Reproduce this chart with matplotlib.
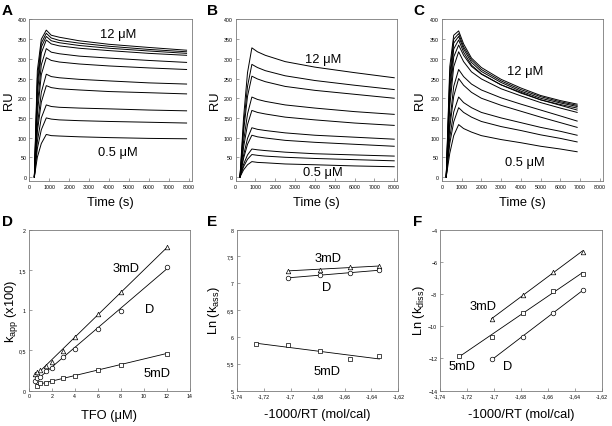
import numpy as np
import matplotlib.pyplot as plt
from matplotlib.ticker import MultipleLocator, FuncFormatter

plt.rcParams['font.family'] = ['Liberation Sans', 'DejaVu Sans']

# --- sensorgrams (RU vs time), one row per TFO concentration, top curve = 12 uM
a_time = [250, 400, 600, 850, 1100, 1500, 2500, 4000, 6000, 7900]
a_ru = [
    [0, 270, 350, 373, 360, 355, 346, 337, 329, 322],
    [0, 250, 340, 365, 353, 347, 340, 332, 324, 318],
    [0, 230, 330, 357, 346, 341, 334, 327, 320, 314],
    [0, 210, 315, 348, 338, 333, 327, 321, 314, 309],
    [0, 180, 285, 326, 317, 313, 307, 302, 296, 291],
    [0, 160, 260, 303, 296, 292, 287, 282, 277, 273],
    [0, 130, 215, 261, 255, 252, 248, 244, 239, 236],
    [0, 115, 190, 232, 227, 224, 221, 217, 214, 211],
    [0, 90, 150, 183, 179, 177, 175, 173, 170, 168],
    [0, 72, 120, 150, 147, 145, 143, 141, 139, 137],
    [0, 50, 85, 108, 105, 104, 102, 100, 98, 97],
]

b_time = [220, 400, 600, 820, 1100, 1500, 2500, 4000, 6000, 8000]
b_ru = [
    [0, 150, 265, 328, 318, 309, 293, 279, 265, 252],
    [0, 130, 230, 286, 278, 270, 257, 245, 233, 222],
    [0, 115, 205, 256, 249, 242, 230, 220, 210, 200],
    [0, 90, 160, 203, 197, 192, 183, 175, 166, 159],
    [0, 75, 133, 169, 164, 160, 152, 145, 137, 131],
    [0, 55, 98, 125, 121, 118, 112, 106, 101, 96],
    [0, 47, 83, 106, 102, 99, 93, 88, 83, 78],
    [0, 32, 56, 71, 69, 67, 63, 59, 56, 53],
    [0, 26, 45, 57, 55, 53, 50, 47, 44, 41],
    [0, 18, 31, 39, 37, 36, 33, 31, 28, 26],
]

c_time = [220, 400, 600, 850, 1100, 1500, 2000, 3000, 4000, 5000, 6000, 6850]
c_ru = [
    [0, 280, 360, 371, 338, 302, 278, 248, 226, 207, 194, 185],
    [0, 260, 350, 364, 331, 297, 273, 244, 222, 204, 191, 182],
    [0, 240, 340, 357, 325, 291, 268, 240, 218, 200, 188, 179],
    [0, 220, 325, 348, 317, 284, 262, 234, 213, 196, 184, 175],
    [0, 200, 305, 335, 309, 281, 261, 234, 215, 196, 182, 170],
    [0, 180, 280, 318, 293, 267, 249, 224, 206, 189, 175, 164],
    [0, 140, 230, 273, 255, 236, 221, 201, 185, 170, 155, 142],
    [0, 125, 205, 250, 233, 215, 200, 182, 167, 152, 138, 126],
    [0, 100, 165, 203, 189, 176, 164, 150, 138, 126, 116, 106],
    [0, 85, 140, 176, 164, 152, 141, 128, 118, 107, 98, 89],
    [0, 60, 105, 133, 123, 114, 105, 95, 87, 78, 71, 64],
]

# --- panel D: k_app (x100) vs TFO (uM)
tfo_3md = [0.5, 0.75, 1, 1.5, 2, 3, 4, 6, 8, 12]
kapp_3md = [0.20, 0.23, 0.26, 0.30, 0.35, 0.49, 0.66, 0.95, 1.22, 1.78]
tfo_d = [0.5, 0.75, 1, 1.5, 2, 3, 4, 6, 8, 12]
kapp_d = [0.12, 0.15, 0.17, 0.24, 0.28, 0.42, 0.52, 0.77, 0.99, 1.54]
tfo_5md = [0.7, 1, 1.5, 2, 3, 4, 6, 8, 12]
kapp_5md = [0.06, 0.09, 0.10, 0.12, 0.16, 0.18, 0.26, 0.32, 0.46]

# --- panels E/F: Arrhenius plots
inv_rt = [-1.7257, -1.7017, -1.6786, -1.6562, -1.6341]
lnkass_3md = [7.236, 7.25, 7.30, 7.32]
lnkass_d = [7.10, 7.15, 7.20, 7.24]
lnkass_5md = [5.876, 5.84, 5.73, 5.58, 5.64]
lnkdiss_3md = [-9.57, -8.08, -6.62, -5.38]
lnkdiss_d = [-12.04, -10.70, -9.20, -7.75]
lnkdiss_5md = [-11.84, -10.66, -9.18, -7.81, -6.74]


def comma(v, pos):
    s = ('%.2f' % v).rstrip('0').rstrip('.')
    if s == '-0':
        s = '0'
    return s.replace('.', ',')


def style(ax, ylab_x, xlab_y):
    for sp in ax.spines.values():
        sp.set_color('#7a7a7a')
        sp.set_linewidth(0.6)
    ax.tick_params(direction='in', length=2, width=0.5, color='#7a7a7a',
                   labelsize=3.8, pad=2)
    ax.yaxis.label.set_va('center')
    ax.xaxis.label.set_va('center')
    ax.yaxis.set_label_coords(ylab_x, 0.5)
    ax.xaxis.set_label_coords(0.5, xlab_y)


def sensorgram(ax, t, rows, top_xy, bot_xy, ylab_x):
    for r in rows:
        ax.plot(t, r, color='black', lw=0.7)
    ax.set_xlim(0, 8150)
    ax.set_ylim(-10, 400)
    ax.xaxis.set_major_locator(MultipleLocator(1000))
    ax.yaxis.set_major_locator(MultipleLocator(50))
    ax.set_xlabel('Time (s)', fontsize=9.3)
    ax.set_ylabel('RU', fontsize=9.3)
    ax.text(*top_xy, '12 μM', fontsize=9.3, ha='center', va='center')
    ax.text(*bot_xy, '0.5 μM', fontsize=9.3, ha='center', va='center')
    style(ax, ylab_x, -0.13)


def scatter_fit(ax, x, y, marker):
    x = np.asarray(x)
    p = np.polyfit(x, y, 1)
    xs = np.array([x.min(), x.max()])
    ax.plot(xs, np.polyval(p, xs), color='black', lw=0.6)
    ax.plot(x, y, marker, ms=3.3, mfc='white', mec='black', mew=0.5,
            ls='none')


fig = plt.figure(figsize=(6.12, 4.27), dpi=100)

axA = fig.add_axes([0.048, 0.574, 0.265, 0.378])
sensorgram(axA, a_time, a_ru, (4450, 364), (4450, 63), -0.128)
axB = fig.add_axes([0.385, 0.574, 0.264, 0.378])
sensorgram(axB, b_time, b_ru, (4420, 300), (4420, 12), -0.128)
axC = fig.add_axes([0.722, 0.574, 0.263, 0.378])
sensorgram(axC, c_time, c_ru, (4220, 268), (4220, 38), -0.137)

axD = fig.add_axes([0.047, 0.083, 0.263, 0.377])
scatter_fit(axD, tfo_3md, kapp_3md, '^')
scatter_fit(axD, tfo_d, kapp_d, 'o')
scatter_fit(axD, tfo_5md, kapp_5md, 's')
axD.set_xlim(0, 14)
axD.set_ylim(0, 2)
axD.xaxis.set_major_locator(MultipleLocator(2))
axD.yaxis.set_major_locator(MultipleLocator(0.5))
axD.yaxis.set_major_formatter(FuncFormatter(comma))
axD.set_xlabel('TFO (μM)', fontsize=9.3)
axD.set_ylabel(r'k$_\mathregular{app}$ (x100)', fontsize=9.3)
axD.text(8.5, 1.52, '3mD', fontsize=9.3, ha='center', va='center')
axD.text(10.5, 1.01, 'D', fontsize=9.3, ha='center', va='center')
axD.text(11.2, 0.22, '5mD', fontsize=9.3, ha='center', va='center')
style(axD, -0.105, -0.15)

axE = fig.add_axes([0.387, 0.083, 0.264, 0.377])
scatter_fit(axE, inv_rt[1:], lnkass_3md, '^')
scatter_fit(axE, inv_rt[1:], lnkass_d, 'o')
scatter_fit(axE, inv_rt, lnkass_5md, 's')
axE.set_xlim(-1.74, -1.62)
axE.set_ylim(5, 8)
axE.xaxis.set_major_locator(MultipleLocator(0.02))
axE.yaxis.set_major_locator(MultipleLocator(0.5))
axE.xaxis.set_major_formatter(FuncFormatter(comma))
axE.yaxis.set_major_formatter(FuncFormatter(comma))
axE.set_xlabel('-1000/RT (mol/cal)', fontsize=9.3)
axE.set_ylabel(r'Ln (k$_\mathregular{ass}$)', fontsize=9.3)
axE.text(-1.672, 7.47, '3mD', fontsize=9.3, ha='center', va='center')
axE.text(-1.673, 6.93, 'D', fontsize=9.3, ha='center', va='center')
axE.text(-1.673, 5.36, '5mD', fontsize=9.3, ha='center', va='center')
style(axE, -0.14, -0.145)

axF = fig.add_axes([0.719, 0.083, 0.264, 0.377])
scatter_fit(axF, inv_rt[1:], lnkdiss_3md, '^')
scatter_fit(axF, inv_rt[1:], lnkdiss_d, 'o')
scatter_fit(axF, inv_rt, lnkdiss_5md, 's')
axF.set_xlim(-1.74, -1.62)
axF.set_ylim(-14, -4)
axF.xaxis.set_major_locator(MultipleLocator(0.02))
axF.yaxis.set_major_locator(MultipleLocator(2))
axF.xaxis.set_major_formatter(FuncFormatter(comma))
axF.set_xlabel('-1000/RT (mol/cal)', fontsize=9.3)
axF.set_ylabel(r'Ln (k$_\mathregular{diss}$)', fontsize=9.3)
axF.text(-1.708, -8.74, '3mD', fontsize=9.3, ha='center', va='center')
axF.text(-1.724, -12.5, '5mD', fontsize=9.3, ha='center', va='center')
axF.text(-1.69, -12.5, 'D', fontsize=9.3, ha='center', va='center')
style(axF, -0.13, -0.145)

for lab, x, y in [('A', 2, 4), ('B', 207, 4), ('C', 413, 4),
                  ('D', 2, 215), ('E', 207, 215), ('F', 413, 215)]:
    fig.text(x / 612, 1 - y / 427, lab, fontsize=11, fontweight='bold',
             ha='left', va='top')

fig.savefig('out.png', dpi=100)
